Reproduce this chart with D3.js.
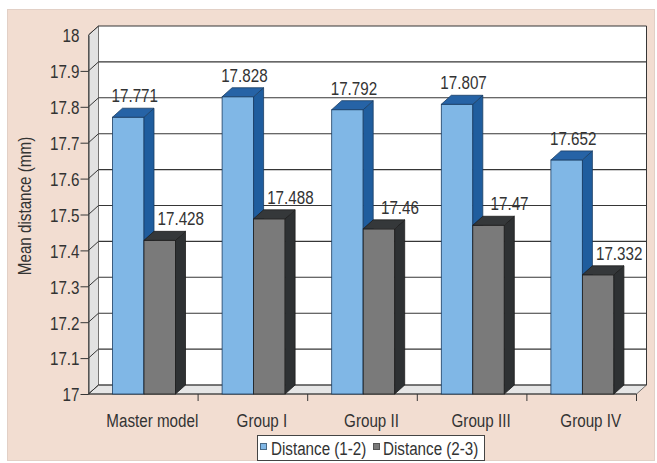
<!DOCTYPE html>
<html>
<head>
<meta charset="utf-8">
<script src="https://cdn.jsdelivr.net/npm/d3@7"></script>
<style>
  html, body { margin: 0; padding: 0; background: #ffffff; }
  svg { display: block; }
  text { font-family: "Liberation Sans", Arial, sans-serif; fill: #333333; }
</style>
</head>
<body>
<svg id="chart" width="657" height="463"></svg>
<script>
// Data
const categories = ["Master model", "Group I", "Group II", "Group III", "Group IV"];
const seriesNames = ["Distance (1-2)", "Distance (2-3)"];
const distance12 = [17.771, 17.828, 17.792, 17.807, 17.652];
const distance23 = [17.428, 17.488, 17.46, 17.47, 17.332];
const yTickValues = [17, 17.1, 17.2, 17.3, 17.4, 17.5, 17.6, 17.7, 17.8, 17.9, 18];

// Styling
const seriesColors = [
  { front: "#80b7e6", side: "#1f5d9e", top: "#2663a6", stroke: "#1b3d63" },
  { front: "#7a7a7a", side: "#2e3133", top: "#35383a", stroke: "#1e1e1e" }
];
const FONT = "19px";
const NARROW = 0.8;            // horizontal condensing of the text face
const DX = 10, DY = -9;        // 3-D depth offset

const svg = d3.select("#chart");

// Background panel
svg.append("rect")
  .attr("x", 7.5).attr("y", 9.5).attr("width", 647).attr("height", 451)
  .attr("fill", "#f2ddd1").attr("stroke", "#e2d0c6");

// Scales (front plane)
const x0 = d3.scaleBand().domain(categories).range([88.5, 636.5]).paddingInner(0).paddingOuter(0);
const x1 = d3.scaleBand().domain(seriesNames).range([24, 87]).padding(0);
const y = d3.scaleLinear().domain([17, 18]).range([394, 35]);

const left = x0.range()[0], right = x0.range()[1];
const base = y(17), topY = y(18);

// Back wall
const g = svg.append("g");
g.append("rect")
  .attr("x", left + DX).attr("y", topY + DY)
  .attr("width", right - left).attr("height", base - topY)
  .attr("fill", "#ffffff");

// Side wall
g.append("polygon")
  .attr("points", [[left, base], [left + DX, base + DY], [left + DX, topY + DY], [left, topY]].join(" "))
  .attr("fill", "#e2e2e2").attr("stroke", "#555").attr("stroke-width", 0.8);

// Floor
g.append("polygon")
  .attr("points", [[left, base], [right, base], [right + DX, base + DY], [left + DX, base + DY]].join(" "))
  .attr("fill", "#e6e6e6").attr("stroke", "#555").attr("stroke-width", 0.8);

// Gridlines on back wall and on side wall
g.selectAll("line.grid").data(yTickValues).join("line")
  .attr("class", "grid")
  .attr("x1", left + DX).attr("x2", right + DX)
  .attr("y1", d => y(d) + DY).attr("y2", d => y(d) + DY)
  .attr("stroke", "#363636").attr("stroke-width", 1.1);
g.selectAll("line.sidegrid").data(yTickValues).join("line")
  .attr("class", "sidegrid")
  .attr("x1", left).attr("x2", left + DX)
  .attr("y1", d => y(d)).attr("y2", d => y(d) + DY)
  .attr("stroke", "#363636").attr("stroke-width", 1);

// Back wall right edge
g.append("line")
  .attr("x1", right + DX).attr("x2", right + DX)
  .attr("y1", topY + DY).attr("y2", base + DY)
  .attr("stroke", "#363636").attr("stroke-width", 1);

// Y axis
const yAxis = d3.axisLeft(y)
  .tickValues(yTickValues)
  .tickSize(8)
  .tickSizeOuter(0)
  .tickFormat(d => String(+d.toFixed(1)));
const ya = svg.append("g").attr("transform", `translate(${left},0)`).call(yAxis);
ya.select(".domain").attr("stroke", "#363636");
ya.selectAll(".tick line").attr("stroke", "#363636")
  .attr("opacity", d => d === 18 ? 0 : 1);
ya.selectAll(".tick text")
  .attr("x", -9 / NARROW)
  .attr("dy", "0.36em")
  .attr("transform", `scale(${NARROW},1)`)
  .style("font-size", FONT)
  .style("font-family", "'Liberation Sans', Arial, sans-serif")
  .attr("fill", "#333");

// X axis (category ticks between groups)
const xa = svg.append("g");
xa.append("line")
  .attr("x1", left).attr("x2", right).attr("y1", base).attr("y2", base)
  .attr("stroke", "#363636");
xa.selectAll("line.ctick").data(categories).join("line")
  .attr("class", "ctick")
  .attr("x1", d => x0(d) + x0.bandwidth()).attr("x2", d => x0(d) + x0.bandwidth())
  .attr("y1", base).attr("y2", base + 7)
  .attr("stroke", "#363636");
xa.selectAll("text").data(categories).join("text")
  .attr("transform", d => `translate(${x0(d) + x0.bandwidth() / 2 + 9},427) scale(${NARROW},1)`)
  .attr("text-anchor", "middle")
  .style("font-size", FONT)
  .text(d => d);

// Bars
const rows = categories.map((c, i) => ({ cat: c, values: [distance12[i], distance23[i]] }));
const labelShift = [6.5, 21];
const w = x1.bandwidth();

const groups = svg.append("g").selectAll("g").data(rows).join("g");
groups.each(function (row) {
  const grp = d3.select(this);
  row.values.forEach((v, s) => {
    const col = seriesColors[s];
    const x = x0(row.cat) + x1(seriesNames[s]);
    const yt = y(v);
    grp.append("rect")
      .attr("x", x).attr("y", yt).attr("width", w).attr("height", base - yt)
      .attr("fill", col.front).attr("stroke", col.stroke).attr("stroke-width", 0.8);
    grp.append("polygon")
      .attr("points", [[x + w, yt], [x + w + DX, yt + DY], [x + w + DX, base + DY], [x + w, base]].join(" "))
      .attr("fill", col.side).attr("stroke", col.stroke).attr("stroke-width", 0.8);
    grp.append("polygon")
      .attr("points", [[x, yt], [x + DX, yt + DY], [x + w + DX, yt + DY], [x + w, yt]].join(" "))
      .attr("fill", col.top).attr("stroke", col.stroke).attr("stroke-width", 0.8);
  });
});

// Value labels
groups.each(function (row) {
  const grp = d3.select(this);
  row.values.forEach((v, s) => {
    const x = x0(row.cat) + x1(seriesNames[s]) + w / 2 + labelShift[s];
    grp.append("text")
      .attr("transform", `translate(${x},${y(v) - 15}) scale(${NARROW},1)`)
      .attr("text-anchor", "middle")
      .style("font-size", FONT)
      .text(String(v));
  });
});

// Y axis title
svg.append("text")
  .attr("transform", `translate(31,206) rotate(-90) scale(${NARROW},1)`)
  .attr("text-anchor", "middle")
  .style("font-size", FONT)
  .text("Mean distance (mm)");

// Legend
const legend = svg.append("g");
legend.append("rect")
  .attr("x", 257.5).attr("y", 435.5).attr("width", 227).attr("height", 25)
  .attr("fill", "#ffffff").attr("stroke", "#444");
const legendX = [260, 373];
const legendTextX = [271, 383];
seriesNames.forEach((name, s) => {
  legend.append("rect")
    .attr("x", legendX[s] + 0.5).attr("y", 443.5).attr("width", 6).attr("height", 6)
    .attr("fill", seriesColors[s].front).attr("stroke", s === 0 ? "#4a6a86" : "#555");
  legend.append("text")
    .attr("transform", `translate(${legendTextX[s]},455) scale(${NARROW},1)`)
    .style("font-size", FONT)
    .text(name);
});
</script>
</body>
</html>
